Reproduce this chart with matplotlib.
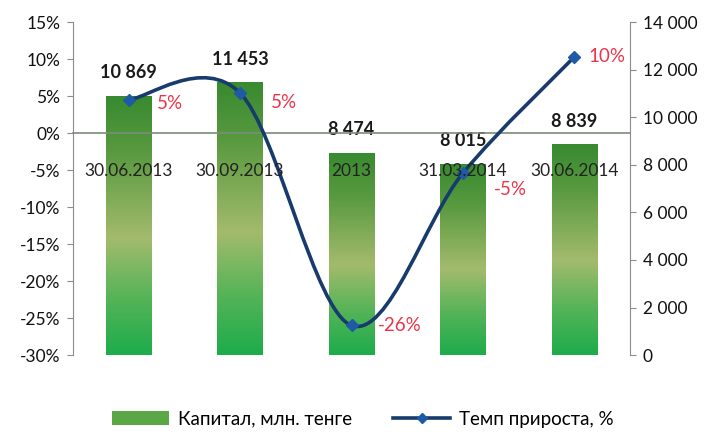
import numpy as np
import matplotlib
matplotlib.use('Agg')
import matplotlib.pyplot as plt
from matplotlib.path import Path
from matplotlib.patches import PathPatch, Patch
from matplotlib.lines import Line2D
from matplotlib.colors import LinearSegmentedColormap
from matplotlib.ticker import FuncFormatter, MultipleLocator

plt.rcParams['font.family'] = ['Lato', 'Open Sans', 'DejaVu Sans']

# data
dates = ['30.06.2013', '30.09.2013', '2013', '31.03.2014', '30.06.2014']
capital = [10869, 11453, 8474, 8015, 8839]          # млн. тенге
growth = [4.5, 5.4, -26.0, -5.4, 10.3]               # %
growth_labels = ['5%', '5%', '-26%', '-5%', '10%']
bar_labels = ['10 869', '11 453', '8 474', '8 015', '8 839']

LINE = '#173b6c'
MARK = '#1f5aa6'
RED = '#ec3448'
AXIS = '#8c8c8c'

fig = plt.figure(figsize=(7.12, 4.32), dpi=100)
ax = fig.add_axes([0.1025, 0.178, 0.7825, 0.771])
ax2 = ax.twinx()
ax.set_zorder(ax2.get_zorder() + 1)
ax.patch.set_visible(False)

x = np.arange(len(dates))
width = 0.41
cmap = LinearSegmentedColormap.from_list('bar', [(0.0, '#388a30'), (0.22, '#5a9a40'),
                                                  (0.55, '#a3bb6c'), (0.8, '#4fb356'),
                                                  (1.0, '#1eac4c')])
grad = np.linspace(0, 1, 256).reshape(-1, 1)
for xi, v in zip(x, capital):
    ax2.imshow(grad, cmap=cmap, aspect='auto', origin='upper',
               extent=[xi - width / 2, xi + width / 2, 0, v], zorder=1)
for xi, v, lab in zip(x, capital, bar_labels):
    ax2.annotate(lab, (xi, v), xytext=(0, 17), textcoords='offset points',
                 ha='center', va='center', fontsize=13, fontweight='bold', color='#1a1a1a')

ax2.set_xlim(-0.5, len(dates) - 0.5)
ax2.set_ylim(0, 14000)
ax2.yaxis.set_major_locator(MultipleLocator(2000))
ax2.yaxis.set_major_formatter(FuncFormatter(lambda v, p: f'{int(v):,}'.replace(',', ' ')))

# smooth line (Catmull-Rom as Bezier, like Excel smoothing)
pts = np.column_stack([x, growth]).astype(float)
ext = np.vstack([pts[0], pts, pts[-1]])
verts = [tuple(pts[0])]
codes = [Path.MOVETO]
for i in range(len(pts) - 1):
    p0, p1, p2, p3 = ext[i], ext[i + 1], ext[i + 2], ext[i + 3]
    c1 = p1 + (p2 - p0) / 6
    c2 = p2 - (p3 - p1) / 6
    verts += [tuple(c1), tuple(c2), tuple(p2)]
    codes += [Path.CURVE4] * 3
ax.add_patch(PathPatch(Path(verts, codes), fill=False, edgecolor=LINE, lw=2.6,
                       capstyle='round', zorder=3))
ax.plot(x, growth, ls='none', marker='D', ms=6.5, color=MARK, mec=MARK, zorder=4)

offsets = [(20, -3), (22, -7), (19, 0), (22, -12), (10, 0)]
for xi, g, lab, off in zip(x, growth, growth_labels, offsets):
    ax.annotate(lab, (xi, g), xytext=off, textcoords='offset points',
                ha='left', va='center', fontsize=13.5, color=RED)

for xi, d in zip(x, dates):
    ax.annotate(d, (xi, 0), xytext=(0, -27), textcoords='offset points',
                ha='center', va='center', fontsize=12.5, color='#222222', zorder=5)

ax.set_xlim(-0.5, len(dates) - 0.5)
ax.set_ylim(-30, 15)
ax.yaxis.set_major_locator(MultipleLocator(5))
ax.yaxis.set_major_formatter(FuncFormatter(lambda v, p: f'{int(round(v))}%'))
ax.set_xticks(x[:-1] + 0.5)
ax.set_xticklabels([])
ax.tick_params(axis='x', direction='out', length=4, color=AXIS)

ax.spines['bottom'].set_position(('data', 0))
ax.spines['bottom'].set_color('#7d8c7a')
ax.spines['bottom'].set_linewidth(1.2)
ax.spines['top'].set_visible(False)
ax.spines['right'].set_visible(False)
ax.spines['left'].set_color(AXIS)
ax.tick_params(axis='y', direction='out', length=4, color=AXIS, labelsize=12.5,
               labelcolor='#111111', pad=5)
for s in ['top', 'bottom', 'left']:
    ax2.spines[s].set_visible(False)
ax2.spines['right'].set_color(AXIS)
ax2.tick_params(axis='y', direction='out', length=4, color=AXIS, labelsize=12.5,
                labelcolor='#111111', pad=5)
ax2.set_xticks([])

handles = [Patch(facecolor='#5aa845', edgecolor='none', label='Капитал, млн. тенге'),
           Line2D([], [], color=LINE, lw=2.6, marker='D', ms=5, mfc=MARK, mec=MARK,
                  label='Темп прироста, %')]
fig.legend(handles=handles, loc='center', bbox_to_anchor=(0.51, 0.03), ncol=2,
           frameon=False, fontsize=13.5, handlelength=3.0, columnspacing=2.2,
           handletextpad=0.5)

fig.savefig('out.png', dpi=100)
